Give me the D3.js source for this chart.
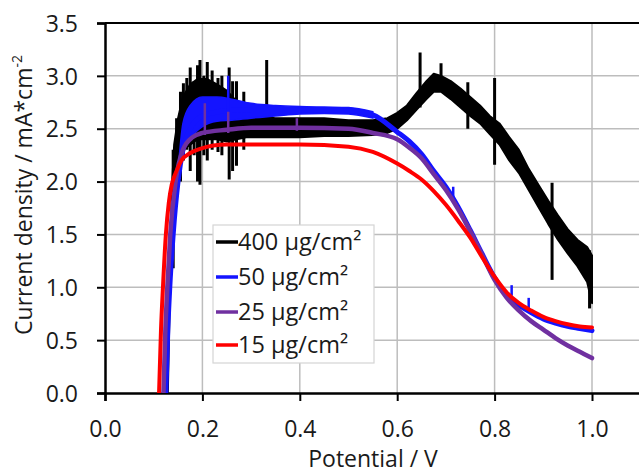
<!DOCTYPE html>
<html>
<head>
<meta charset="utf-8">
<script src="https://cdn.jsdelivr.net/npm/d3@7"></script>
<style>
  html, body { margin: 0; padding: 0; background: #fff; }
  svg { display: block; font-family: "Open Sans", "Noto Sans", sans-serif; }
</style>
</head>
<body>
<svg id="chart" width="639" height="475"></svg>
<script>
// ---- data ----
const xTicks = [0.0, 0.2, 0.4, 0.6, 0.8, 1.0];
const yTicks = [0.0, 0.5, 1.0, 1.5, 2.0, 2.5, 3.0, 3.5];
const seriesNames = ["400 µg/cm²", "50 µg/cm²", "25 µg/cm²", "15 µg/cm²"];
const seriesColors = ["#000000", "#1414ff", "#7030a0", "#ff0000"];

// 400 µg/cm² : noisy trace given as an envelope (potential, lower, upper)
const blackX    = [0.129, 0.133, 0.137, 0.142, 0.150, 0.160, 0.175, 0.190, 0.210, 0.230, 0.250, 0.270, 0.290, 0.310, 0.350, 0.400, 0.450, 0.500, 0.550, 0.580, 0.600, 0.620, 0.640, 0.660, 0.675, 0.690, 0.710, 0.730, 0.750, 0.770, 0.790, 0.810, 0.830, 0.850, 0.870, 0.890, 0.910, 0.930, 0.950, 0.970, 0.990, 1.000];
const blackLow  = [0.00, 0.90, 1.60, 2.05, 2.20, 2.30, 2.35, 2.40, 2.40, 2.40, 2.38, 2.40, 2.42, 2.42, 2.42, 2.42, 2.43, 2.43, 2.44, 2.46, 2.50, 2.58, 2.68, 2.78, 2.85, 2.85, 2.78, 2.70, 2.62, 2.55, 2.45, 2.35, 2.20, 2.08, 1.92, 1.76, 1.60, 1.45, 1.32, 1.20, 1.05, 0.85];
const blackHigh = [0.00, 1.10, 1.90, 2.35, 2.60, 2.80, 2.92, 2.97, 2.97, 2.92, 2.86, 2.76, 2.70, 2.62, 2.60, 2.60, 2.60, 2.58, 2.58, 2.60, 2.65, 2.72, 2.84, 2.95, 3.02, 3.00, 2.95, 2.88, 2.80, 2.72, 2.62, 2.55, 2.42, 2.30, 2.12, 1.97, 1.82, 1.68, 1.55, 1.45, 1.38, 1.30];
// spikes of the 400 µg/cm² trace (potential, bottom, top)
const spikeX   = [0.140, 0.147, 0.155, 0.161, 0.168, 0.175, 0.183, 0.190, 0.195, 0.203, 0.210, 0.220, 0.232, 0.240, 0.255, 0.262, 0.270, 0.285, 0.332, 0.647, 0.690, 0.745, 0.800, 0.918, 0.995];
const spikeLo  = [1.18, 1.95, 2.00, 2.20, 2.30, 2.10, 2.25, 2.00, 1.97, 2.25, 2.20, 2.30, 2.28, 2.25, 2.02, 2.10, 2.15, 2.30, 2.45, 2.70, 2.85, 2.50, 2.16, 1.07, 0.80];
const spikeHi  = [2.30, 2.60, 2.85, 2.93, 2.98, 3.08, 2.95, 3.10, 3.15, 3.00, 3.13, 3.05, 2.98, 3.00, 3.08, 2.95, 2.95, 2.85, 3.15, 3.22, 3.12, 2.94, 2.98, 1.99, 1.35];

// 50 µg/cm²
const blueX = [0.125, 0.129, 0.133, 0.140, 0.150, 0.160, 0.175, 0.200, 0.250, 0.300, 0.400, 0.500, 0.550, 0.600, 0.625, 0.650, 0.675, 0.700, 0.725, 0.750, 0.775, 0.800, 0.825, 0.850, 0.875, 0.900, 0.925, 0.950, 0.975, 1.000];
const blueY = [0.00, 0.60, 1.00, 1.50, 2.00, 2.30, 2.50, 2.62, 2.67, 2.68, 2.68, 2.67, 2.63, 2.47, 2.38, 2.26, 2.10, 1.95, 1.76, 1.54, 1.31, 1.09, 0.92, 0.83, 0.76, 0.70, 0.66, 0.63, 0.61, 0.59];
// noisy part of 50 µg/cm² (potential, lower, upper)
const blueBandX  = [0.150, 0.160, 0.175, 0.200, 0.230, 0.260, 0.300, 0.350, 0.400, 0.450, 0.500, 0.550];
const blueBandLo = [1.95, 2.25, 2.40, 2.52, 2.57, 2.58, 2.60, 2.62, 2.64, 2.645, 2.64, 2.60];
const blueBandHi = [2.10, 2.55, 2.72, 2.80, 2.80, 2.78, 2.74, 2.72, 2.71, 2.705, 2.70, 2.66];
const blueSpikeX  = [0.253, 0.715, 0.835, 0.870];
const blueSpikeLo = [2.62, 1.80, 0.92, 0.76];
const blueSpikeHi = [3.00, 1.95, 1.02, 0.90];

// 25 µg/cm²
const purpleX = [0.120, 0.124, 0.128, 0.134, 0.145, 0.160, 0.180, 0.200, 0.250, 0.300, 0.400, 0.500, 0.550, 0.600, 0.625, 0.650, 0.675, 0.700, 0.725, 0.750, 0.775, 0.800, 0.825, 0.850, 0.875, 0.900, 0.925, 0.950, 0.975, 1.000];
const purpleY = [0.00, 0.60, 1.00, 1.50, 2.00, 2.30, 2.42, 2.46, 2.49, 2.51, 2.51, 2.50, 2.46, 2.40, 2.32, 2.22, 2.07, 1.92, 1.74, 1.53, 1.30, 1.07, 0.90, 0.78, 0.68, 0.60, 0.52, 0.45, 0.39, 0.33];
const purpleSpikeX  = [0.205, 0.253, 0.394];
const purpleSpikeLo = [2.44, 2.46, 2.48];
const purpleSpikeHi = [2.74, 2.66, 2.60];

// 15 µg/cm²
const redX = [0.111, 0.115, 0.119, 0.125, 0.131, 0.137, 0.145, 0.157, 0.175, 0.195, 0.250, 0.300, 0.400, 0.500, 0.550, 0.600, 0.625, 0.650, 0.675, 0.700, 0.725, 0.750, 0.775, 0.800, 0.825, 0.850, 0.875, 0.900, 0.925, 0.950, 0.975, 1.000];
const redY = [0.00, 0.60, 1.00, 1.50, 1.80, 1.97, 2.08, 2.20, 2.27, 2.31, 2.35, 2.35, 2.35, 2.33, 2.28, 2.17, 2.10, 2.02, 1.91, 1.78, 1.63, 1.47, 1.28, 1.10, 0.95, 0.85, 0.78, 0.72, 0.68, 0.65, 0.63, 0.62];

// ---- drawing ----
const svg = d3.select("#chart");
const x = d3.scaleLinear().domain([0, 1.2]).range([105, 689.4]);
const y = d3.scaleLinear().domain([0, 3.5]).range([393, 23]);
const fmt = d3.format(".1f");
const FONT = "'Open Sans', 'Noto Sans', sans-serif";

// grid
const grid = svg.append("g");
grid.selectAll("line.h").data(yTicks.slice(1, -1)).join("line")
  .attr("x1", x(0)).attr("x2", x(1.2)).attr("y1", d => y(d)).attr("y2", d => y(d))
  .attr("stroke", "#bdbdbd").attr("stroke-width", 1.5);
grid.selectAll("line.v").data(xTicks.slice(1)).join("line")
  .attr("x1", d => x(d)).attr("x2", d => x(d)).attr("y1", y(0)).attr("y2", y(3.5))
  .attr("stroke", "#bdbdbd").attr("stroke-width", 1.5);

// top border
svg.append("line").attr("x1", x(0)).attr("x2", x(1.2)).attr("y1", y(3.5)).attr("y2", y(3.5))
  .attr("stroke", "#000").attr("stroke-width", 2);

// axes
const xAxis = svg.append("g").attr("transform", `translate(0,${y(0)})`)
  .call(d3.axisBottom(x).tickValues(xTicks).tickFormat(fmt).tickSize(8).tickPadding(20));
const yAxis = svg.append("g").attr("transform", `translate(${x(0)},0)`)
  .call(d3.axisLeft(y).tickValues(yTicks).tickFormat(fmt).tickSize(8).tickPadding(19));
[xAxis, yAxis].forEach(g => {
  g.select(".domain").attr("stroke", "#000").attr("stroke-width", 2.5);
  g.selectAll(".tick line").attr("stroke", "#000").attr("stroke-width", 2);
  g.selectAll(".tick text").attr("font-size", 23).attr("fill", "#1a1a1a").attr("font-family", FONT);
});
yAxis.selectAll(".tick text").attr("dy", "0.36em");
xAxis.selectAll(".tick text").attr("dy", "0.71em");

// clip to plot area
svg.append("clipPath").attr("id", "plot").append("rect")
  .attr("x", x(0)).attr("y", y(3.5) - 2).attr("width", x(1.2) - x(0)).attr("height", y(0) - y(3.5) + 2);
const plot = svg.append("g").attr("clip-path", "url(#plot)");

// 400 µg/cm² envelope
const blackData = blackX.map((v, i) => ({x: v, lo: blackLow[i], hi: blackHigh[i]}));
plot.append("path").datum(blackData)
  .attr("d", d3.area().x(d => x(d.x)).y0(d => y(d.lo)).y1(d => y(d.hi)))
  .attr("fill", "#000").attr("stroke", "#000").attr("stroke-width", 2).attr("stroke-linejoin", "round");

function drawSpikes(xs, lo, hi, color, w) {
  plot.append("g").selectAll("line").data(xs.map((v, i) => ({x: v, lo: lo[i], hi: hi[i]}))).join("line")
    .attr("x1", d => x(d.x)).attr("x2", d => x(d.x)).attr("y1", d => y(d.lo)).attr("y2", d => y(d.hi))
    .attr("stroke", color).attr("stroke-width", w);
}
drawSpikes(spikeX, spikeLo, spikeHi, "#000", 3);

function drawLine(xs, ys, color, width) {
  const data = xs.map((v, i) => ({x: v, y: ys[i]}));
  plot.append("path").datum(data)
    .attr("d", d3.line().x(d => x(d.x)).y(d => y(d.y)).curve(d3.curveMonotoneX))
    .attr("fill", "none").attr("stroke", color).attr("stroke-width", width)
    .attr("stroke-linejoin", "round").attr("stroke-linecap", "round");
}
// blue band + line
plot.append("path").datum(blueBandX.map((v, i) => ({x: v, lo: blueBandLo[i], hi: blueBandHi[i]})))
  .attr("d", d3.area().x(d => x(d.x)).y0(d => y(d.lo)).y1(d => y(d.hi)).curve(d3.curveMonotoneX))
  .attr("fill", seriesColors[1]).attr("stroke", seriesColors[1]).attr("stroke-width", 1.5);
drawLine(blueX, blueY, seriesColors[1], 5);
drawSpikes(blueSpikeX, blueSpikeLo, blueSpikeHi, seriesColors[1], 2.5);
drawLine(purpleX, purpleY, seriesColors[2], 4.5);
drawSpikes(purpleSpikeX, purpleSpikeLo, purpleSpikeHi, seriesColors[2], 2.5);
drawLine(redX, redY, seriesColors[3], 4);

// legend
const lg = svg.append("g");
lg.append("rect").attr("x", 213).attr("y", 225).attr("width", 161).attr("height", 138)
  .attr("fill", "#fff").attr("stroke", "#d4d4d4").attr("stroke-width", 1.2);
const rowY = [242, 277, 312, 345];
seriesNames.forEach((name, i) => {
  lg.append("line").attr("x1", 216).attr("x2", 238).attr("y1", rowY[i]).attr("y2", rowY[i])
    .attr("stroke", seriesColors[i]).attr("stroke-width", 3.5);
  lg.append("text").attr("x", 238).attr("y", rowY[i]).attr("dy", "0.36em")
    .attr("font-size", 23.5).attr("fill", "#1a1a1a").text(name);
});

// axis titles
svg.append("text").attr("x", 373).attr("y", 467).attr("text-anchor", "middle")
  .attr("font-size", 23).attr("fill", "#1a1a1a").text("Potential / V");
const yt = svg.append("text").attr("transform", "translate(32,195) rotate(-90)")
  .attr("text-anchor", "middle").attr("font-size", 23).attr("fill", "#1a1a1a");
yt.append("tspan").text("Current density  / mA*cm");
yt.append("tspan").attr("font-size", 14).attr("dy", -10).text("-2");
</script>
</body>
</html>
